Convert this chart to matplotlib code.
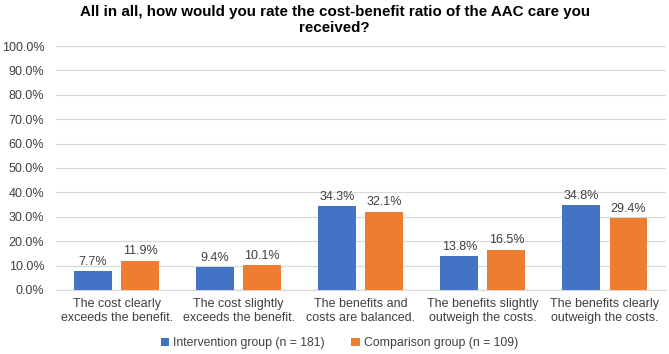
import numpy as np
import matplotlib.pyplot as plt

plt.rcParams['font.family'] = ['Liberation Sans', 'DejaVu Sans']

# === Data ===
categories = [
    "The cost clearly\nexceeds the benefit.",
    "The cost slightly\nexceeds the benefit.",
    "The benefits and\ncosts are balanced.",
    "The benefits slightly\noutweigh the costs.",
    "The benefits clearly\noutweigh the costs.",
]
intervention = [7.7, 9.4, 34.3, 13.8, 34.8]
comparison = [11.9, 10.1, 32.1, 16.5, 29.4]
series_names = ["Intervention group (n = 181)", "Comparison group (n = 109)"]
yticks = list(range(0, 101, 10))

blue = "#4472C4"
orange = "#ED7D31"
text_col = "#404040"

# === Plot ===
fig = plt.figure(figsize=(6.69, 3.54), dpi=100)
ax = fig.add_axes([0.083, 0.181, 0.9125, 0.689])

x = np.arange(len(categories))
w = 0.31
off = 0.193
b1 = ax.bar(x - off, intervention, width=w, color=blue, label=series_names[0], zorder=3)
b2 = ax.bar(x + off, comparison, width=w, color=orange, label=series_names[1], zorder=3)

for bars, vals in ((b1, intervention), (b2, comparison)):
    for rect, v in zip(bars, vals):
        ax.annotate(f"{v:.1f}%", (rect.get_x() + rect.get_width() / 2, v),
                    xytext=(0, 2.5), textcoords="offset points",
                    ha="center", va="bottom", fontsize=9, color=text_col)

ax.set_xlim(-0.5, len(categories) - 0.5)
ax.set_ylim(0, 100)
ax.set_yticks(yticks)
ax.set_yticklabels([f"{t:.1f}%" for t in yticks])
ax.set_xticks(x)
ax.set_xticklabels(categories)
ax.tick_params(axis="both", length=0, labelsize=9, labelcolor=text_col)
ax.tick_params(axis="x", pad=6)
ax.tick_params(axis="y", pad=8)
ax.grid(axis="y", color="#D9D9D9", linewidth=0.9, zorder=0)
for s in ("top", "right", "left"):
    ax.spines[s].set_visible(False)
ax.spines["bottom"].set_color("#D9D9D9")
ax.spines["bottom"].set_linewidth(0.9)

fig.suptitle("All in all, how would you rate the cost-benefit ratio of the AAC care you\nreceived?",
             x=0.5, y=0.986, fontsize=10.9, fontweight="bold", color="#000000",
             linespacing=1.15)

fig.legend(loc="center", bbox_to_anchor=(0.507, 0.03), ncol=2, frameon=False,
           fontsize=8.8, handlelength=0.7, handleheight=0.7, handletextpad=0.3,
           columnspacing=2.2, labelcolor=text_col)

fig.savefig("out.png", dpi=100)
